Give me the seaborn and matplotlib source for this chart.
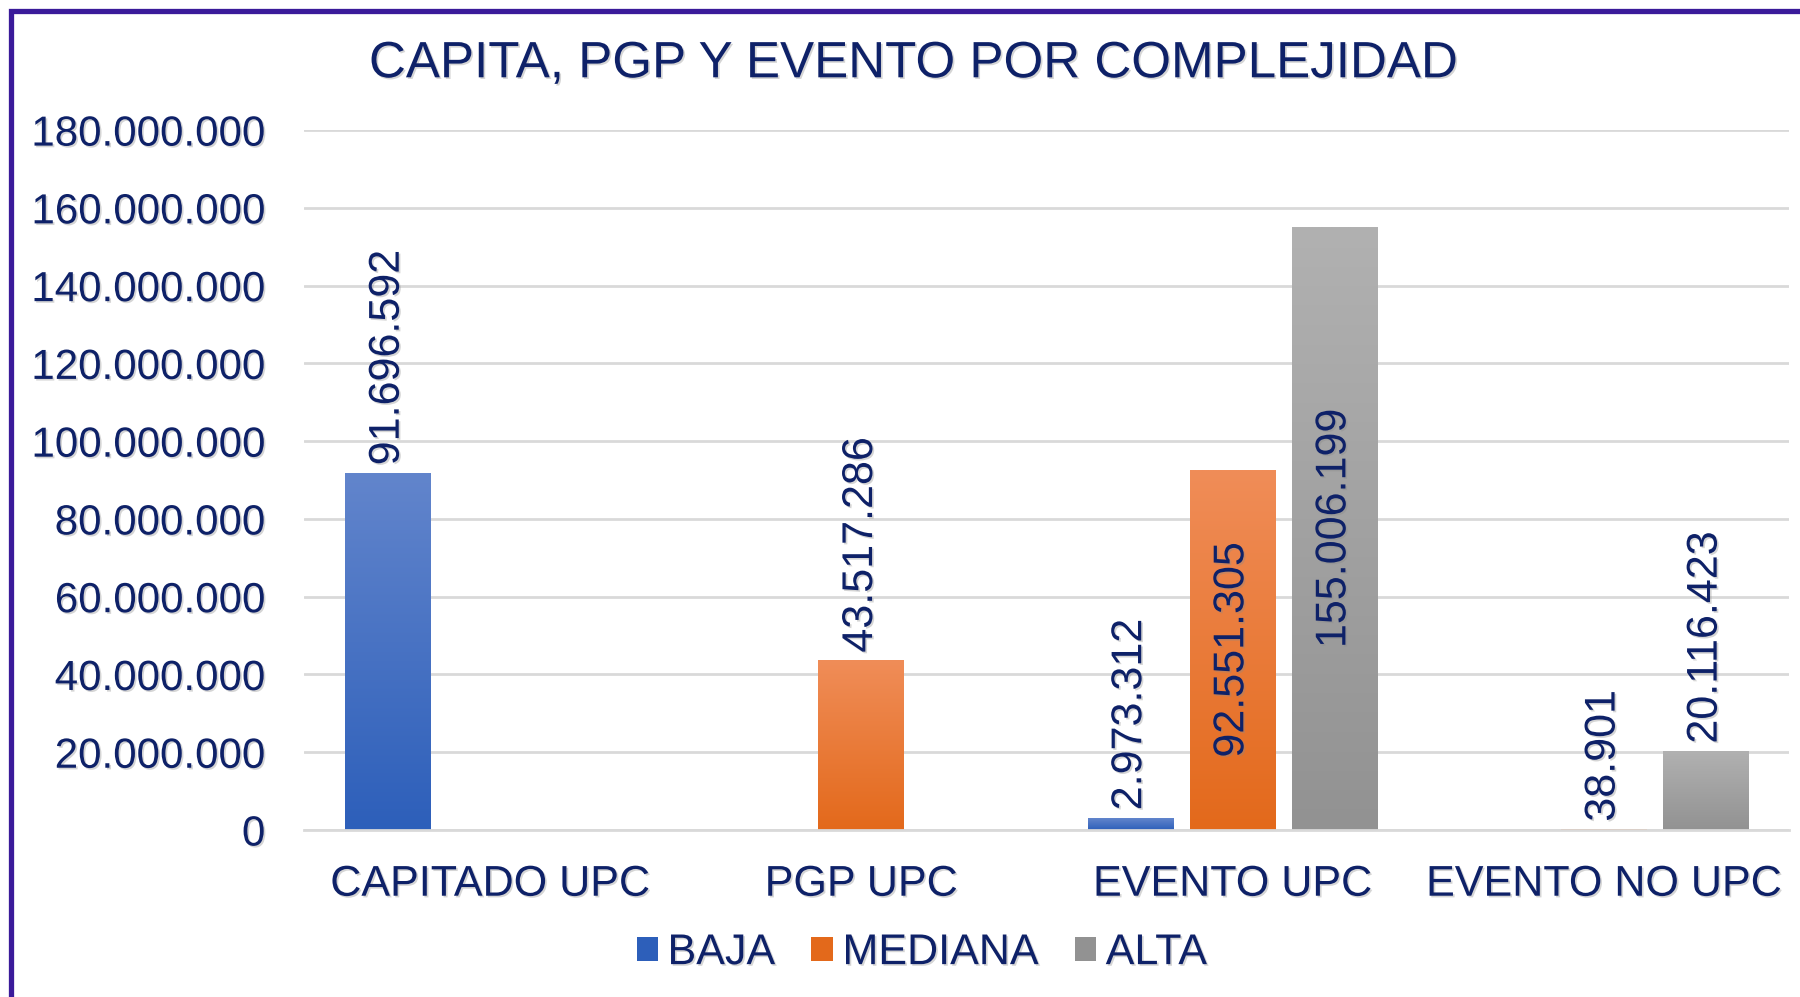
import numpy as np
import pandas as pd
import matplotlib
matplotlib.use('Agg')
import matplotlib.pyplot as plt
import matplotlib.patheffects as pe
import seaborn as sns
from matplotlib.colors import LinearSegmentedColormap
from matplotlib.patches import Rectangle, Patch

# Datos
categorias = ['CAPITADO UPC', 'PGP UPC', 'EVENTO UPC', 'EVENTO NO UPC']
niveles = ['BAJA', 'MEDIANA', 'ALTA']
baja = [91696592, None, 2973312, None]
mediana = [None, 43517286, 92551305, 38901]
alta = [None, None, 155006199, 20116423]
y_ticks = [0, 20000000, 40000000, 60000000, 80000000, 100000000,
           120000000, 140000000, 160000000, 180000000]

# etiquetas que van dentro de la barra
etiquetas_dentro = {('EVENTO UPC', 'MEDIANA'), ('EVENTO UPC', 'ALTA')}

filas = []
for nivel, serie in zip(niveles, [baja, mediana, alta]):
    for cat, v in zip(categorias, serie):
        if v is not None:
            filas.append({'categoria': cat, 'nivel': nivel, 'valor': v})
df = pd.DataFrame(filas)

azul_texto = '#0E2168'
sombra = [pe.withSimplePatchShadow(offset=(1.2, -1.2), shadow_rgbFace='#888888',
                                   alpha=0.35)]
gradientes = {
    'BAJA': ('#2D5FBA', '#6285CC'),
    'MEDIANA': ('#E3691B', '#F08D58'),
    'ALTA': ('#929292', '#B1B1B1'),
}
colores = {k: v[0] for k, v in gradientes.items()}

sns.set_theme(style='white')
plt.rcParams['font.family'] = ['Liberation Sans', 'DejaVu Sans']

fig = plt.figure(figsize=(18, 9.97), dpi=100)
ax = fig.add_axes([0.169, 0.1675, 0.825, 0.702])

sns.barplot(data=df, x='categoria', y='valor', hue='nivel', order=categorias,
            hue_order=niveles, palette=colores, width=0.825, gap=0.164,
            legend=False, ax=ax, saturation=1)

# relleno degradado en cada barra
grad = np.linspace(0, 1, 256).reshape(-1, 1)
for nivel, cont in zip(niveles, ax.containers):
    cmap = LinearSegmentedColormap.from_list(nivel, gradientes[nivel])
    for bar in cont:
        x0, y0 = bar.get_x(), bar.get_y()
        w, h = bar.get_width(), bar.get_height()
        if np.isnan(h):
            continue
        ax.imshow(grad, extent=[x0, x0 + w, y0, y0 + h], origin='lower',
                  aspect='auto', cmap=cmap, zorder=2.5)
        bar.set_facecolor('none')
        bar.set_edgecolor('none')
        cat = categorias[int(round(x0 + w / 2))]
        etiqueta = f'{h:,.0f}'.replace(',', '.')
        if (cat, nivel) in etiquetas_dentro:
            ax.text(x0 + w / 2, h / 2, etiqueta, rotation=90, ha='center',
                    va='center', fontsize=31, color=azul_texto, zorder=4,
                    path_effects=sombra)
        else:
            ax.text(x0 + w / 2, h + 2100000, etiqueta, rotation=90,
                    ha='center', va='bottom', fontsize=31, color=azul_texto,
                    zorder=4, path_effects=sombra)

ax.set_xlim(-0.5, 3.5)
ax.set_ylim(0, 180000000)
ax.set_yticks(y_ticks)
ax.set_yticklabels([f'{t:,.0f}'.replace(',', '.') for t in y_ticks])
ax.yaxis.grid(True, color='#D9D9D9', linewidth=2)
ax.set_axisbelow(True)
for s in ['top', 'right', 'left']:
    ax.spines[s].set_visible(False)
ax.spines['bottom'].set_color('#D9D9D9')
ax.spines['bottom'].set_linewidth(2)
ax.tick_params(axis='y', length=0, pad=28, labelsize=30.3, labelcolor=azul_texto)
ax.tick_params(axis='x', length=0, pad=25, labelsize=31, labelcolor=azul_texto)
ax.set_xlabel('')
ax.set_ylabel('')
for t in ax.get_xticklabels() + ax.get_yticklabels():
    t.set_path_effects(sombra)

fig.text(0.508, 0.936, 'CAPITA, PGP Y EVENTO POR COMPLEJIDAD', ha='center',
         va='center', fontsize=36.8, color=azul_texto, path_effects=sombra)

manejadores = [Patch(facecolor=gradientes[n][0], edgecolor='none', label=n)
               for n in niveles]
leg = fig.legend(handles=manejadores, loc='center', bbox_to_anchor=(0.512, 0.044),
                 ncol=3, frameon=False, fontsize=31, labelcolor=azul_texto,
                 handlelength=0.5, handleheight=0.5, handletextpad=0.22,
                 columnspacing=0.85)
for t in leg.get_texts():
    t.set_path_effects(sombra)

# marco del gráfico
fig.patches.append(Rectangle((10.5 / 1800, -0.1), 1.2, 1.1 - 10.5 / 997,
                             transform=fig.transFigure, fill=False,
                             edgecolor='#3A1A9A', linewidth=3.8, zorder=10))

fig.savefig('out.png', dpi=100)
